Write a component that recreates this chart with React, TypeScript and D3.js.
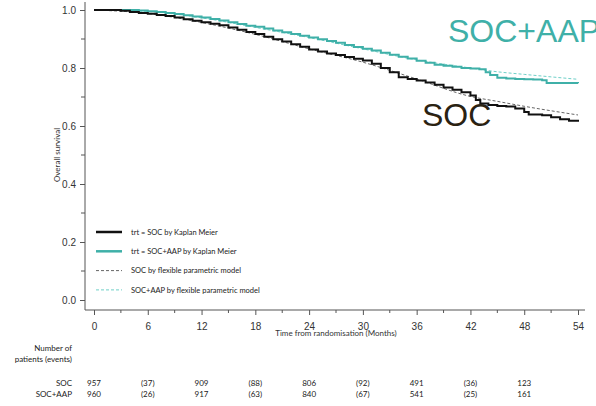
import React, { useRef, useEffect } from 'react';
import * as d3 from 'd3';

// Kaplan Meier steps (months, survival)
const socTime = [0, 2, 3, 4, 5, 6, 7, 8, 9, 10, 11, 12, 13, 14, 15, 16, 17, 18, 19, 20, 21, 22, 23, 24, 25, 26, 27, 28, 29, 30, 31, 32, 33, 34, 35, 36, 37, 38, 39, 40, 41, 42, 42.6, 43.1, 44, 45, 46, 47, 48, 48.5, 50, 51, 52, 53, 54];
const socSurv = [1.0, 1.0, 0.997, 0.993, 0.99, 0.987, 0.983, 0.979, 0.974, 0.968, 0.963, 0.958, 0.953, 0.947, 0.94, 0.932, 0.924, 0.917, 0.908, 0.899, 0.891, 0.882, 0.873, 0.864, 0.857, 0.85, 0.845, 0.838, 0.832, 0.826, 0.815, 0.8, 0.785, 0.768, 0.762, 0.757, 0.75, 0.742, 0.733, 0.725, 0.716, 0.705, 0.69, 0.678, 0.672, 0.669, 0.667, 0.66, 0.648, 0.64, 0.637, 0.63, 0.623, 0.618, 0.615];

const aapTime = [0, 4, 5, 6, 7, 8, 9, 10, 11, 12, 13, 14, 15, 16, 17, 18, 19, 20, 21, 22, 23, 24, 25, 26, 27, 28, 29, 30, 31, 32, 33, 34, 35, 36, 37, 38, 39, 40, 41, 42, 43, 43.7, 44.2, 45, 46, 47, 48, 49, 50, 50.5, 54];
const aapSurv = [1.0, 1.0, 0.998, 0.996, 0.993, 0.99, 0.986, 0.982, 0.978, 0.974, 0.969, 0.964, 0.958, 0.952, 0.946, 0.942, 0.936, 0.929, 0.923, 0.917, 0.911, 0.905, 0.899, 0.893, 0.887, 0.879, 0.872, 0.866, 0.86, 0.853, 0.846, 0.839, 0.833, 0.825, 0.818, 0.811, 0.808, 0.804, 0.8, 0.798, 0.796, 0.785, 0.776, 0.766, 0.764, 0.762, 0.761, 0.76, 0.758, 0.748, 0.747];

// flexible parametric model fits
const paramTime = [0, 6, 12, 18, 24, 30, 36, 42, 45, 48, 54];
const socParam = [1.0, 0.988, 0.957, 0.916, 0.866, 0.82, 0.762, 0.702, 0.685, 0.668, 0.638];
const aapParam = [1.0, 0.995, 0.973, 0.94, 0.905, 0.866, 0.828, 0.8, 0.787, 0.778, 0.761];

const xTicks = [0, 6, 12, 18, 24, 30, 36, 42, 48, 54];
const xMinor = [3, 9, 15, 21, 27, 33, 39, 45, 51];
const yTicks = [0, 0.2, 0.4, 0.6, 0.8, 1.0];
const yMinor = [0.1, 0.3, 0.5, 0.7, 0.9];

const riskTimes = [0, 6, 12, 18, 24, 30, 36, 42, 48];
const socRisk = ["957", "(37)", "909", "(88)", "806", "(92)", "491", "(36)", "123"];
const aapRisk = ["960", "(26)", "917", "(63)", "840", "(67)", "541", "(25)", "161"];

const legendItems = [
  { label: "trt = SOC by Kaplan Meier", color: "#111", width: 2.5, dash: null },
  { label: "trt = SOC+AAP by Kaplan Meier", color: "#3fb0a8", width: 2.5, dash: null },
  { label: "SOC by flexible parametric model", color: "#666", width: 1, dash: "3,2" },
  { label: "SOC+AAP by flexible parametric model", color: "#6fd0c8", width: 1, dash: "3,2" },
];

const teal = "#3fb0a8";
const font = "Lato, 'Open Sans', sans-serif";

export default function App() {
  const ref = useRef<SVGSVGElement>(null);

  useEffect(() => {
    const svg = d3.select(ref.current);
    svg.selectAll("*").remove();

    const x = d3.scaleLinear().domain([0, 54]).range([94, 578]);
    const y = d3.scaleLinear().domain([0, 1]).range([300, 10]);
    const axisX = 85;
    const axisY = 310;

    // axes lines
    svg.append("line").attr("x1", axisX).attr("x2", axisX).attr("y1", 2).attr("y2", axisY)
      .attr("stroke", "#555").attr("stroke-width", 1);
    svg.append("line").attr("x1", axisX).attr("x2", 585).attr("y1", axisY).attr("y2", axisY)
      .attr("stroke", "#555").attr("stroke-width", 1);

    // y axis
    const gy = svg.append("g").attr("transform", `translate(${axisX},0)`)
      .attr("font-family", font).attr("font-size", 8).attr("fill", "#333");
    gy.call(d3.axisLeft(y).tickValues(yTicks).tickSize(5).tickPadding(4).tickFormat(d3.format(".1f")) as any);
    gy.call(g => g.select(".domain").remove());
    gy.selectAll(".tick line").attr("stroke", "#555");
    gy.selectAll(".tick text").attr("fill", "#333");
    gy.selectAll("line.minor").data(yMinor).enter().append("line")
      .attr("x1", -4).attr("x2", 0).attr("y1", d => y(d)).attr("y2", d => y(d))
      .attr("stroke", "#555");

    // x axis
    const gx = svg.append("g").attr("transform", `translate(0,${axisY})`)
      .attr("font-family", font).attr("font-size", 8);
    gx.call(d3.axisBottom(x).tickValues(xTicks).tickSize(5).tickPadding(8).tickFormat(d3.format("d")) as any);
    gx.call(g => g.select(".domain").remove());
    gx.selectAll(".tick line").attr("stroke", "#555");
    gx.selectAll(".tick text").attr("fill", "#333");
    gx.selectAll("line.minor").data(xMinor).enter().append("line")
      .attr("x1", d => x(d)).attr("x2", d => x(d)).attr("y1", 0).attr("y2", 3)
      .attr("stroke", "#555");

    svg.append("text").attr("x", 336).attr("y", 336).attr("text-anchor", "middle")
      .attr("font-family", font).attr("font-size", 8).attr("fill", "#333")
      .text("Time from randomisation (Months)");

    svg.append("text").attr("transform", "translate(60,155) rotate(-90)")
      .attr("text-anchor", "middle").attr("font-family", font).attr("font-size", 8).attr("fill", "#333")
      .text("Overall survival");

    // parametric curves
    const smooth = d3.line<number>().x((_, i) => x(paramTime[i])).curve(d3.curveMonotoneX);
    svg.append("path").attr("d", smooth.y(d => y(d))(socParam))
      .attr("fill", "none").attr("stroke", "#666").attr("stroke-width", 1).attr("stroke-dasharray", "3,2");
    svg.append("path").attr("d", smooth.y(d => y(d))(aapParam))
      .attr("fill", "none").attr("stroke", "#6fd0c8").attr("stroke-width", 1).attr("stroke-dasharray", "3,2");

    // Kaplan Meier steps
    const step = (times: number[]) => d3.line<number>()
      .x((_, i) => x(times[i])).y(d => y(d)).curve(d3.curveStepAfter);
    svg.append("path").attr("d", step(aapTime)(aapSurv))
      .attr("fill", "none").attr("stroke", teal).attr("stroke-width", 2);
    svg.append("path").attr("d", step(socTime)(socSurv))
      .attr("fill", "none").attr("stroke", "#111").attr("stroke-width", 2);

    // legend
    const legend = svg.append("g").attr("font-family", font).attr("font-size", 7.5).attr("fill", "#222");
    legendItems.forEach((item, i) => {
      const ly = 232 + i * 19.3;
      legend.append("line").attr("x1", 96).attr("x2", 122).attr("y1", ly).attr("y2", ly)
        .attr("stroke", item.color).attr("stroke-width", item.width)
        .attr("stroke-dasharray", item.dash);
      legend.append("text").attr("x", 131).attr("y", ly).attr("dy", "0.35em").text(item.label);
    });

    // big annotations
    svg.append("text").attr("x", 448).attr("y", 42).attr("font-family", "'Liberation Sans', Arial, sans-serif")
      .attr("font-size", 32).attr("fill", teal).text("SOC+AAP");
    svg.append("text").attr("x", 422).attr("y", 126).attr("font-family", "'Liberation Sans', Arial, sans-serif")
      .attr("font-size", 32).attr("fill", "#2a2212").text("SOC");

    // number at risk
    const risk = svg.append("g").attr("font-family", font).attr("font-size", 8).attr("fill", "#222");
    risk.append("text").attr("x", 72).attr("y", 351).attr("text-anchor", "end").text("Number of");
    risk.append("text").attr("x", 72).attr("y", 362).attr("text-anchor", "end").text("patients (events)");
    risk.append("text").attr("x", 72).attr("y", 386).attr("text-anchor", "end").text("SOC");
    risk.append("text").attr("x", 72).attr("y", 397).attr("text-anchor", "end").text("SOC+AAP");
    riskTimes.forEach((t, i) => {
      risk.append("text").attr("x", x(t)).attr("y", 386).attr("text-anchor", "middle").text(socRisk[i]);
      risk.append("text").attr("x", x(t)).attr("y", 397).attr("text-anchor", "middle").text(aapRisk[i]);
    });
  }, []);

  return (
    <svg ref={ref} width={596} height={406}
      style={{ position: "absolute", left: 0, top: 0, background: "white" }} />
  );
}
